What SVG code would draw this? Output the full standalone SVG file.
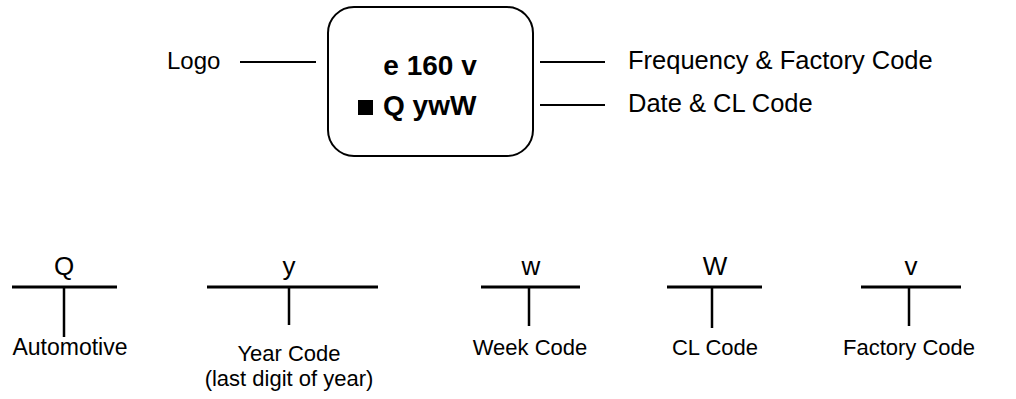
<svg xmlns="http://www.w3.org/2000/svg" width="1016" height="399" viewBox="0 0 1016 399">
<style>
text{font-family:"Liberation Sans",Arial,sans-serif;fill:#000}
.lbl{font-size:24px}
.big{font-size:25.5px}
.b{font-size:28px;font-weight:bold}
.sm{font-size:22px}
.ch{font-size:26px}
.ln{stroke:#000;stroke-width:2;fill:none}
.tb{stroke:#000;stroke-width:3;fill:none}
.tv{stroke:#000;stroke-width:2.5;fill:none}
</style>
<rect width="1016" height="399" fill="#fff"/>
<g id="chip">
<rect x="328" y="7" width="205" height="149" rx="26" ry="26" fill="#fff" stroke="#000" stroke-width="2"/>
<text class="b" x="430" y="75" text-anchor="middle">e 160 v</text>
<rect x="358" y="100" width="15" height="15" fill="#000"/>
<text class="b" x="383" y="115">Q ywW</text>
</g>
<g id="logo"><text class="lbl" x="167" y="69">Logo</text></g>
<g id="freq"><text class="big" x="628" y="69">Frequency &amp; Factory Code</text></g>
<g id="date"><text class="big" x="628" y="112">Date &amp; CL Code</text></g>
<g id="connectors">
<line class="ln" x1="240" y1="62" x2="316" y2="62"/>
<line class="ln" x1="540" y1="62" x2="605" y2="62"/>
<line class="ln" x1="540" y1="105" x2="605" y2="105"/>
</g>
<g id="q">
<text class="ch" x="64" y="275" text-anchor="middle">Q</text>
<line class="tb" x1="12" y1="287" x2="117" y2="287"/>
<line class="tv" x1="64" y1="287" x2="64" y2="337"/>
<text class="sm" x="70" y="355" text-anchor="middle" style="font-size:23px">Automotive</text>
</g>
<g id="y">
<text class="ch" x="289" y="275" text-anchor="middle">y</text>
<line class="tb" x1="207" y1="287" x2="378" y2="287"/>
<line class="tv" x1="289" y1="287" x2="289" y2="325"/>
<text class="sm" x="289" y="361" text-anchor="middle">Year Code</text>
<text class="sm" x="289" y="386" text-anchor="middle">(last digit of year)</text>
</g>
<g id="w">
<text class="ch" x="531" y="275" text-anchor="middle">w</text>
<line class="tb" x1="481" y1="287" x2="580" y2="287"/>
<line class="tv" x1="529" y1="287" x2="529" y2="326"/>
<text class="sm" x="530" y="355" text-anchor="middle">Week Code</text>
</g>
<g id="W">
<text class="ch" x="715" y="275" text-anchor="middle">W</text>
<line class="tb" x1="667" y1="287" x2="762" y2="287"/>
<line class="tv" x1="712" y1="287" x2="712" y2="328"/>
<text class="sm" x="715" y="355" text-anchor="middle">CL Code</text>
</g>
<g id="v">
<text class="ch" x="911" y="275" text-anchor="middle">v</text>
<line class="tb" x1="861" y1="287" x2="961" y2="287"/>
<line class="tv" x1="909" y1="287" x2="909" y2="326"/>
<text class="sm" x="909" y="355" text-anchor="middle">Factory Code</text>
</g>
</svg>
